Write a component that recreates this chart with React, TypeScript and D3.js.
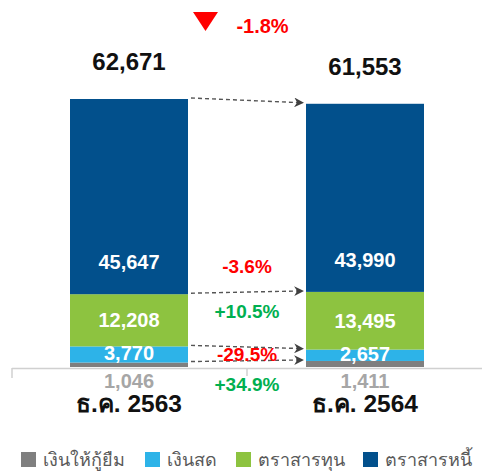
import React from 'react'
import * as d3 from 'd3'

const categories = ['ธ.ค. 2563', 'ธ.ค. 2564']
const seriesNames = ['เงินให้กู้ยืม', 'เงินสด', 'ตราสารทุน', 'ตราสารหนี้']
const seriesColors = ['#7f7f7f', '#2db3e8', '#8dc340', '#02508c']
const loans = [1046, 1411]
const cash = [3770, 2657]
const equity = [12208, 13495]
const debt = [45647, 43990]
const changes = ['+34.9%', '-29.5%', '+10.5%', '-3.6%']
const totalChange = '-1.8%'

const width = 482
const height = 471
const font = '"Liberation Sans", Arial, "Noto Sans", sans-serif'
const RED = '#ff0000'
const GREEN = '#00b050'

const fmt = d3.format(',')

export default function App() {
  const series = [loans, cash, equity, debt]
  const totals = categories.map((_, i) => d3.sum(series, s => s[i]))

  const x = d3.scaleBand<string>()
    .domain(categories)
    .range([11, 483])
    .paddingInner(0.5)
    .paddingOuter(0.25)
  const y = d3.scaleLinear().domain([0, 62671]).range([367, 99])
  const bw = x.bandwidth()

  const table = categories.map((c, i) => {
    const row: Record<string, number | string> = { cat: c }
    seriesNames.forEach((n, k) => { row[n] = series[k][i] })
    return row
  })
  const stack = d3.stack<Record<string, number | string>>().keys(seriesNames)(table as any)

  const x0 = (x(categories[0]) ?? 0) + bw
  const x1 = x(categories[1]) ?? 0
  const mid = (x0 + x1) / 2

  const changeBaselines = [391, 361, 318, 273]

  const legendX = [21, 145, 236, 363]

  return (
    <svg width={width} height={height} style={{ position: 'absolute', left: 0, top: 0 }} fontFamily={font}>
      <defs>
        <marker id="arr" viewBox="0 0 10 10" refX="9" refY="5" markerWidth="7" markerHeight="7" orient="auto">
          <path d="M0,0 L10,5 L0,10 L3,5 z" fill="#404040" />
        </marker>
      </defs>

      {stack.map((layer, k) => (
        <g key={seriesNames[k]}>
          {layer.map((d, i) => (
            <rect key={i} x={x(categories[i])} width={bw} y={y(d[1])} height={y(d[0]) - y(d[1])} fill={seriesColors[k]} />
          ))}
        </g>
      ))}

      {/* arrows between segment tops */}
      {stack.map((layer, k) => (
        <line key={'a' + k} x1={x0 + 3} y1={y(layer[0][1]) - 1} x2={x1 - 3} y2={y(layer[1][1]) - 1}
          stroke="#555" strokeWidth={1.4} strokeDasharray="4,3" markerEnd="url(#arr)" />
      ))}

      {/* axis */}
      <line x1={12} x2={482} y1={368.5} y2={368.5} stroke="#d0d0d0" strokeWidth={1.5} />
      <line x1={12} x2={12} y1={368} y2={378} stroke="#d0d0d0" strokeWidth={1.5} />
      <line x1={mid} x2={mid} y1={368} y2={376} stroke="#d0d0d0" strokeWidth={1.5} />

      {/* segment labels */}
      {categories.map((c, i) => {
        const cx = (x(c) ?? 0) + bw / 2
        return (
          <g key={c} textAnchor="middle" fontWeight="bold">
            <text x={cx} y={y(stack[3][i][0]) - 25} fill="#fff" fontSize={20}>{fmt(debt[i])}</text>
            <text x={cx} y={(y(stack[2][i][0]) + y(stack[2][i][1])) / 2 + 7} fill="#fff" fontSize={20}>{fmt(equity[i])}</text>
            <text x={cx} y={(y(stack[1][i][0]) + y(stack[1][i][1])) / 2 + 6} fill="#fff" fontSize={20}>{fmt(cash[i])}</text>
            <text x={cx} y={388} fill="#a6a6a6" fontSize={20}>{fmt(loans[i])}</text>
            <text x={cx} y={y(totals[i]) - 29} fill="#111" fontSize={24}>{fmt(totals[i])}</text>
            <text x={cx} y={412} fill="#111" fontSize={24.5}>{c}</text>
          </g>
        )
      })}

      {/* change labels */}
      {changes.map((t, k) => (
        <text key={t} x={mid} y={changeBaselines[k]} textAnchor="middle" fontWeight="bold" fontSize={19}
          fill={t.startsWith('-') ? RED : GREEN}>{t}</text>
      ))}

      <path d="M193,12 L218,12 L205.5,31 Z" fill={RED} />
      <text x={262.5} y={33} textAnchor="middle" fontWeight="bold" fontSize={20} fill={RED}>{totalChange}</text>

      {/* legend */}
      {seriesNames.map((n, k) => (
        <g key={n} transform={`translate(${legendX[k]},452)`}>
          <rect width={15} height={15} fill={seriesColors[k]} />
          <text x={22} y={14} fontSize={18} fill="#595959">{n}</text>
        </g>
      ))}
    </svg>
  )
}
